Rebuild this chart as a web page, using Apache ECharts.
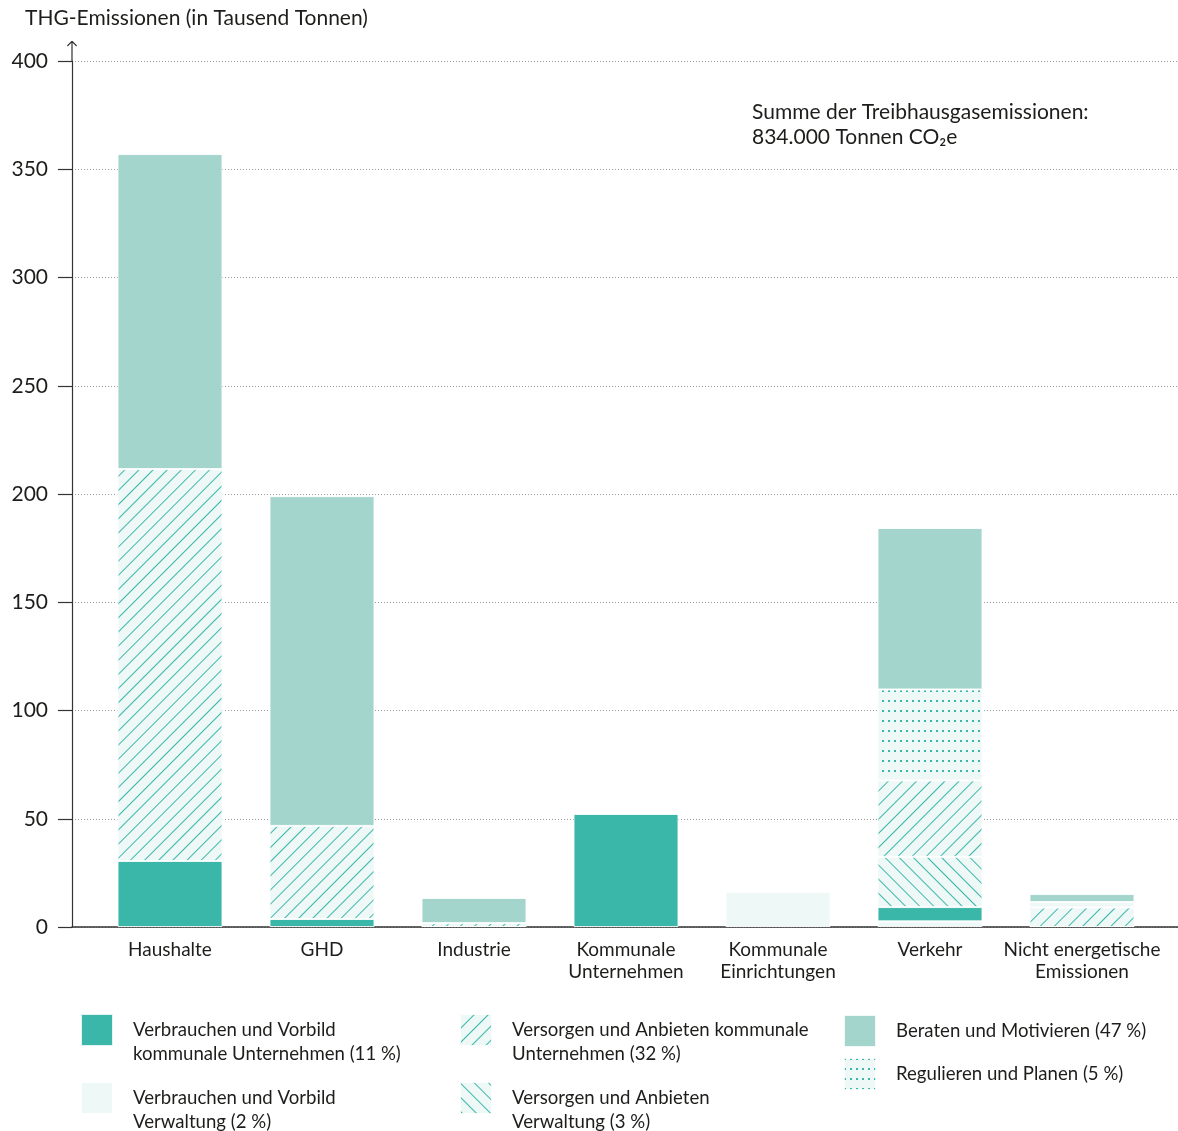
<!DOCTYPE html>
<html>
<head>
<meta charset="utf-8">
<script src="https://cdn.jsdelivr.net/npm/echarts@6/dist/echarts.min.js"></script>
<style>
  html, body { margin: 0; padding: 0; background: #fff; }
  #chart { width: 1178px; height: 1131px; }
</style>
</head>
<body>
<div id="chart"></div>
<script>
// categories on the x axis
var sectors = ['Haushalte', 'GHD', 'Industrie', 'Kommunale\nUnternehmen', 'Kommunale\nEinrichtungen', 'Verkehr', 'Nicht energetische\nEmissionen'];
var yTicks = [0, 50, 100, 150, 200, 250, 300, 350, 400];

// values in thousand tonnes, stacked from bottom to top
var verbrauchenVerwaltung = [0, 0, 0, 0, 16.2, 2.6, 0];
var verbrauchenKommunal = [30.5, 3.7, 0, 52.2, 0, 6.6, 0];
var versorgenVerwaltung = [0, 0, 0, 0, 0, 23.2, 0];
var versorgenKommunal = [181, 43, 1.8, 0, 0, 35.3, 9];
var regulieren = [0, 0, 0, 0, 0, 42, 2.5];
var beraten = [145.5, 152.3, 11.6, 0, 0, 74.6, 3.7];

var names = {
  vv: 'Verbrauchen und Vorbild Verwaltung (2 %)',
  vk: 'Verbrauchen und Vorbild kommunale Unternehmen (11 %)',
  sv: 'Versorgen und Anbieten Verwaltung (3 %)',
  sk: 'Versorgen und Anbieten kommunale Unternehmen (32 %)',
  rp: 'Regulieren und Planen (5 %)',
  bm: 'Beraten und Motivieren (47 %)'
};
// the leading blank line pushes two-line labels down so line one sits beside the icon
var legendText = {};
legendText[names.vv] = '\u00a0\nVerbrauchen und Vorbild\nVerwaltung (2 %)';
legendText[names.vk] = '\u00a0\nVerbrauchen und Vorbild\nkommunale Unternehmen (11 %)';
legendText[names.sv] = '\u00a0\nVersorgen und Anbieten\nVerwaltung (3 %)';
legendText[names.sk] = '\u00a0\nVersorgen und Anbieten kommunale\nUnternehmen (32 %)';
legendText[names.rp] = 'Regulieren und Planen (5 %)';
legendText[names.bm] = 'Beraten und Motivieren (47 %)';

var dark = '#3bb7aa', mid = '#a3d5cc', pale = '#eef8f6', ink = '#1d1d1b';
var font = 'Lato, "Open Sans", sans-serif';

function hatch(rot) {
  return { symbol: 'rect', symbolSize: 1, dashArrayX: [1, 0], dashArrayY: [1, 9],
    rotation: rot, color: dark, backgroundColor: pale };
}
var dots = { symbol: 'rect', symbolSize: 1, dashArrayX: [2, 3.6], dashArrayY: [2, 7.5],
  rotation: 0, color: dark, backgroundColor: pale };

function clean(arr) {
  return arr.map(function (v) { return v === 0 ? '-' : v; });
}

function bar(name, data, color, decal) {
  var style = { color: color, borderColor: 'rgba(255,255,255,0.85)', borderWidth: 1 };
  if (decal) style.decal = decal;
  return {
    name: name, type: 'bar', stack: 'total', xAxisIndex: 1, yAxisIndex: 1,
    barWidth: 105, data: clean(data), itemStyle: style,
    emphasis: { disabled: true }
  };
}

var legendBase = {
  orient: 'vertical', itemWidth: 32, itemHeight: 32, icon: 'rect',
  selectedMode: false, padding: 0, height: 300, width: 380,
  textStyle: { fontFamily: font, fontSize: 18.6, lineHeight: 24, color: ink, padding: [0, 0, 0, 15] },
  formatter: function (n) { return legendText[n]; }
};

var chart = echarts.init(document.getElementById('chart'));
chart.setOption({
  backgroundColor: '#fff',
  animation: false,
  title: [{
    text: 'THG-Emissionen (in Tausend Tonnen)', left: 25, top: 8, padding: 0,
    textStyle: { fontFamily: font, fontSize: 21, fontWeight: 'normal', color: ink }
  }, {
    text: 'Summe der Treibhausgasemissionen:\n834.000 Tonnen CO\u2082e', left: 752, top: 100, padding: 0,
    textStyle: { fontFamily: font, fontSize: 21, fontWeight: 'normal', color: ink, lineHeight: 25 }
  }],
  legend: [
    Object.assign({}, legendBase, { left: 80, top: 994, itemGap: -4, data: [names.vk, names.vv] }),
    Object.assign({}, legendBase, { left: 459, top: 994, itemGap: -4, data: [names.sk, names.sv] }),
    Object.assign({}, legendBase, { left: 843, top: 1014, itemGap: 9, width: 330, data: [names.bm, names.rp] })
  ],
  grid: [
    { left: 72, right: 0, top: 61, bottom: 204 },
    { left: 94, right: 20, top: 61, bottom: 204 }
  ],
  xAxis: [{
    gridIndex: 0, type: 'value', min: 0, max: 1,
    axisLine: { show: true, lineStyle: { color: '#333', width: 1.5 } },
    axisTick: { show: false }, axisLabel: { show: false }, splitLine: { show: false }
  }, {
    gridIndex: 1, type: 'category', data: sectors,
    axisLine: { show: false }, axisTick: { show: false },
    axisLabel: { margin: 12, fontFamily: font, fontSize: 19, lineHeight: 22, color: ink, interval: 0 }
  }],
  yAxis: [{
    gridIndex: 0, type: 'value', min: yTicks[0], max: yTicks[yTicks.length - 1], interval: 50,
    axisLine: {
      show: true, lineStyle: { color: '#333', width: 1.2 },
      symbol: ['none', 'path://M4.4,0 L5.6,0 L10,4.6 L9.2,5.4 L5.6,1.8 L5.6,20 L4.4,20 L4.4,1.8 L0.8,5.4 L0,4.6 Z'],
      symbolSize: [10, 20], symbolOffset: [0, 10]
    },
    axisTick: { show: true, length: 14, lineStyle: { color: '#333', width: 1.2 } },
    axisLabel: { margin: 24, fontFamily: font, fontSize: 21, color: ink },
    splitLine: { show: true, lineStyle: { color: '#9a9a9a', type: [1, 2], width: 1 } }
  }, {
    gridIndex: 1, type: 'value', min: yTicks[0], max: yTicks[yTicks.length - 1], interval: 50,
    axisLine: { show: false }, axisTick: { show: false }, axisLabel: { show: false },
    splitLine: { show: false }
  }],
  series: [
    bar(names.vv, verbrauchenVerwaltung, pale),
    bar(names.vk, verbrauchenKommunal, dark),
    bar(names.sv, versorgenVerwaltung, pale, hatch(Math.PI / 4)),
    bar(names.sk, versorgenKommunal, pale, hatch(-Math.PI / 4)),
    bar(names.rp, regulieren, pale, dots),
    bar(names.bm, beraten, mid)
  ]
});
</script>
</body>
</html>
